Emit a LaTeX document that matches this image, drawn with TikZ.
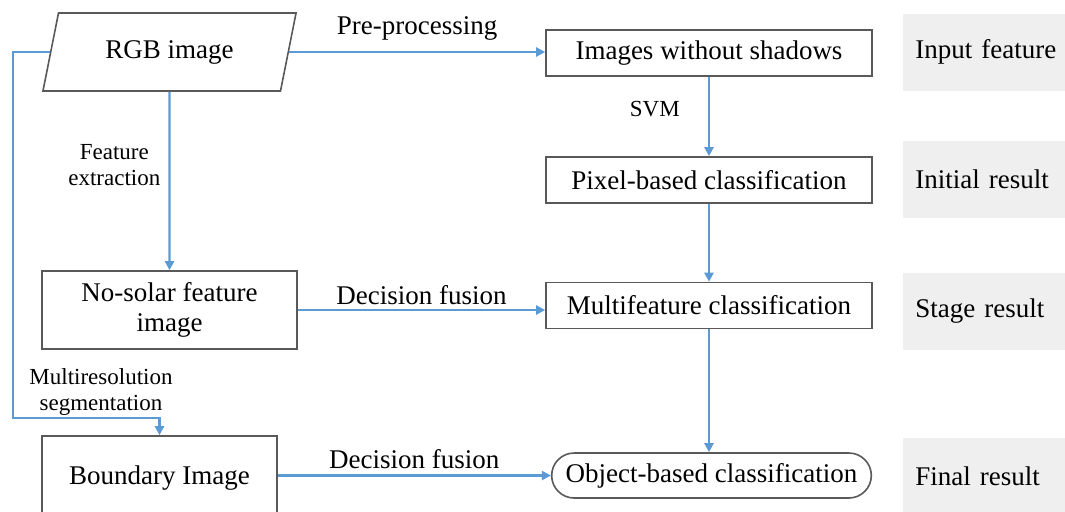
\documentclass[tikz,border=0pt]{standalone}
\usepackage{fontspec}
\setmainfont{Liberation Serif}
\usetikzlibrary{arrows.meta, shapes.geometric, shapes.misc, calc}
\definecolor{flowblue}{HTML}{5B9BD5}
\definecolor{boxgray}{HTML}{595959}
\definecolor{taggray}{HTML}{EFEFEF}

\begin{document}
\begin{tikzpicture}[x=0.5pt, y=-0.5pt,
  box/.style={draw=boxgray, line width=0.8pt, minimum width=163pt, minimum height=23pt, font=\fontsize{13.5}{15}\selectfont},
  flow/.style={draw=flowblue, line width=1.2pt, -{Triangle[length=4.5pt,width=4.5pt]}},
  lbl/.style={font=\fontsize{13.5}{15}\selectfont},
  sml/.style={font=\fontsize{11.5}{13}\selectfont, align=center, inner sep=1pt},
  tag/.style={fill=taggray, text width=75pt, inner xsep=6pt, minimum height=38.5pt, anchor=west, align=left, font=\fontsize{13.5}{15}\selectfont}]
\useasboundingbox (0,0) rectangle (1065,511);
\clip (0,0) rectangle (1065,511);

% left column
\node[box, trapezium, trapezium left angle=75, trapezium right angle=105, trapezium stretches=true,
      minimum width=127.5pt, minimum height=39pt] (rgb) at (169.5,52) {RGB image};
\node[box, minimum width=127.5pt, minimum height=39pt, align=center] (nosolar) at (169.5,310) {No-solar feature\\image};
\node[box, minimum width=117.5pt, minimum height=42pt] (boundary) at (159.5,478) {Boundary Image};

% right column
\node[box] (shadow) at (709,53) {Images without shadows};
\node[box] (pixel) at (709,180) {Pixel-based classification};
\node[box] (multi) at (709,305.5) {Multifeature classification};
\node[box, rounded rectangle, minimum width=166.5pt, minimum height=22.5pt] (objbased) at (711.5,475.5) {Object-based classification};

% stage tags
\node[tag] (tinput) at (903,52) {Input feature};
\node[tag] (tinitial) at (903,179) {Initial result};
\node[tag] (tstage) at (903,311.5) {Stage result};
\node[tag] (tfinal) at (903,476) {Final result};

% connectors
\coordinate (bend) at (13,418);
\draw[flow] (rgb.east) -- (rgb.east -| shadow.west) node[lbl, midway, above, inner sep=5pt] (prep) {Pre-processing};
\draw[flow] (rgb.south) -- (nosolar.north) node[sml, pos=0.41, left=3pt] (featex) {Feature\\extraction};
\draw[flow] (rgb.west) -| (bend) -| (boundary.north);
\node[sml] (multires) at (101,392) {Multiresolution\\segmentation};
\draw[flow] (shadow.south) -- (pixel.north) node[sml, pos=0.4, left=13pt] (svm) {SVM};
\draw[flow] (pixel.south) -- (multi.north);
\draw[flow] (multi.south) -- (multi.south |- objbased.north);
\draw[flow] (nosolar.east) -- (nosolar.east -| multi.west) node[lbl, midway, above, inner sep=2pt] (fusionA) {Decision fusion};
\draw[flow] (objbased.west -| boundary.east) -- (objbased.west) node[lbl, midway, above, inner sep=3pt] (fusionB) {Decision fusion};
\end{tikzpicture}
\end{document}
